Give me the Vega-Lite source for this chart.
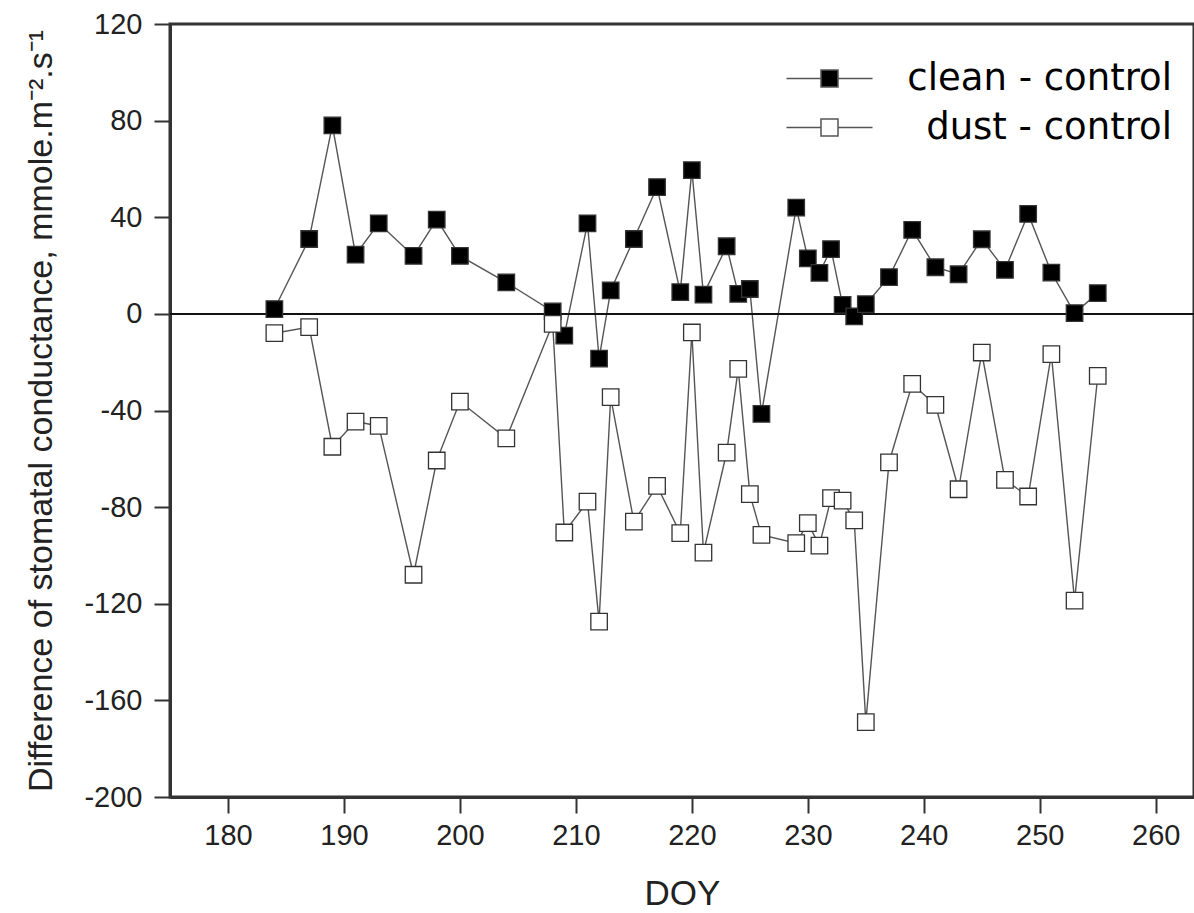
{
  "$schema": "https://vega.github.io/schema/vega-lite/v6.json",
  "width": 1024,
  "height": 773,
  "autosize": {"type": "none"},
  "padding": {"left": 170, "top": 24, "right": 0, "bottom": 116},
  "background": "white",
  "config": {
    "view": {"stroke": "#333", "strokeWidth": 3},
    "axis": {
      "grid": false,
      "domainColor": "#333",
      "domainWidth": 3,
      "tickColor": "#333",
      "tickWidth": 2,
      "tickSize": 16,
      "labelFont": "Liberation Sans",
      "labelFontSize": 29,
      "labelColor": "#222",
      "titleFont": "Liberation Sans",
      "titleFontWeight": "normal",
      "titleColor": "#222"
    }
  },
  "data": {
    "values": [
      {"doy": 184, "v": 2, "series": "clean - control"},
      {"doy": 187, "v": 31, "series": "clean - control"},
      {"doy": 189, "v": 78, "series": "clean - control"},
      {"doy": 191, "v": 24.5, "series": "clean - control"},
      {"doy": 193, "v": 37.5, "series": "clean - control"},
      {"doy": 196, "v": 24, "series": "clean - control"},
      {"doy": 198, "v": 39, "series": "clean - control"},
      {"doy": 200, "v": 24, "series": "clean - control"},
      {"doy": 204, "v": 13, "series": "clean - control"},
      {"doy": 208, "v": 1, "series": "clean - control"},
      {"doy": 209, "v": -9, "series": "clean - control"},
      {"doy": 211, "v": 37.5, "series": "clean - control"},
      {"doy": 212, "v": -18.5, "series": "clean - control"},
      {"doy": 213, "v": 9.7, "series": "clean - control"},
      {"doy": 215, "v": 31, "series": "clean - control"},
      {"doy": 217, "v": 52.5, "series": "clean - control"},
      {"doy": 219, "v": 9, "series": "clean - control"},
      {"doy": 220, "v": 59.5, "series": "clean - control"},
      {"doy": 221, "v": 8, "series": "clean - control"},
      {"doy": 223, "v": 28, "series": "clean - control"},
      {"doy": 224, "v": 8.3, "series": "clean - control"},
      {"doy": 225, "v": 10.3, "series": "clean - control"},
      {"doy": 226, "v": -41.4, "series": "clean - control"},
      {"doy": 229, "v": 44, "series": "clean - control"},
      {"doy": 230, "v": 23, "series": "clean - control"},
      {"doy": 231, "v": 17, "series": "clean - control"},
      {"doy": 232, "v": 26.8, "series": "clean - control"},
      {"doy": 233, "v": 3.7, "series": "clean - control"},
      {"doy": 234, "v": -1, "series": "clean - control"},
      {"doy": 235, "v": 4, "series": "clean - control"},
      {"doy": 237, "v": 15.2, "series": "clean - control"},
      {"doy": 239, "v": 34.8, "series": "clean - control"},
      {"doy": 241, "v": 19.3, "series": "clean - control"},
      {"doy": 243, "v": 16.4, "series": "clean - control"},
      {"doy": 245, "v": 30.9, "series": "clean - control"},
      {"doy": 247, "v": 18.2, "series": "clean - control"},
      {"doy": 249, "v": 41.4, "series": "clean - control"},
      {"doy": 251, "v": 17.1, "series": "clean - control"},
      {"doy": 253, "v": 0.3, "series": "clean - control"},
      {"doy": 255, "v": 8.6, "series": "clean - control"},
      {"doy": 184, "v": -8, "series": "dust - control"},
      {"doy": 187, "v": -5.5, "series": "dust - control"},
      {"doy": 189, "v": -55, "series": "dust - control"},
      {"doy": 191, "v": -44.6, "series": "dust - control"},
      {"doy": 193, "v": -46.4, "series": "dust - control"},
      {"doy": 196, "v": -108, "series": "dust - control"},
      {"doy": 198, "v": -60.7, "series": "dust - control"},
      {"doy": 200, "v": -36.3, "series": "dust - control"},
      {"doy": 204, "v": -51.5, "series": "dust - control"},
      {"doy": 208, "v": -4.1, "series": "dust - control"},
      {"doy": 209, "v": -90.5, "series": "dust - control"},
      {"doy": 211, "v": -77.7, "series": "dust - control"},
      {"doy": 212, "v": -127.4, "series": "dust - control"},
      {"doy": 213, "v": -34.5, "series": "dust - control"},
      {"doy": 215, "v": -86, "series": "dust - control"},
      {"doy": 217, "v": -71.2, "series": "dust - control"},
      {"doy": 219, "v": -90.8, "series": "dust - control"},
      {"doy": 220, "v": -7.7, "series": "dust - control"},
      {"doy": 221, "v": -98.8, "series": "dust - control"},
      {"doy": 223, "v": -57.4, "series": "dust - control"},
      {"doy": 224, "v": -22.8, "series": "dust - control"},
      {"doy": 225, "v": -74.6, "series": "dust - control"},
      {"doy": 226, "v": -91.5, "series": "dust - control"},
      {"doy": 229, "v": -94.9, "series": "dust - control"},
      {"doy": 230, "v": -86.6, "series": "dust - control"},
      {"doy": 231, "v": -95.9, "series": "dust - control"},
      {"doy": 232, "v": -76.3, "series": "dust - control"},
      {"doy": 233, "v": -77.3, "series": "dust - control"},
      {"doy": 234, "v": -85.5, "series": "dust - control"},
      {"doy": 235, "v": -169, "series": "dust - control"},
      {"doy": 237, "v": -61.5, "series": "dust - control"},
      {"doy": 239, "v": -29, "series": "dust - control"},
      {"doy": 241, "v": -37.7, "series": "dust - control"},
      {"doy": 243, "v": -72.6, "series": "dust - control"},
      {"doy": 245, "v": -16, "series": "dust - control"},
      {"doy": 247, "v": -68.7, "series": "dust - control"},
      {"doy": 249, "v": -75.6, "series": "dust - control"},
      {"doy": 251, "v": -16.7, "series": "dust - control"},
      {"doy": 253, "v": -118.7, "series": "dust - control"},
      {"doy": 255, "v": -25.7, "series": "dust - control"}
    ]
  },
  "encoding": {
    "x": {
      "field": "doy",
      "type": "quantitative",
      "scale": {"domain": [175, 263.3], "nice": false, "zero": false},
      "axis": {
        "values": [180, 190, 200, 210, 220, 230, 240, 250, 260],
        "title": "DOY",
        "titleFontSize": 35,
        "titlePadding": 26,
        "labelPadding": 8
      }
    },
    "y": {
      "field": "v",
      "type": "quantitative",
      "scale": {"domain": [-200, 120], "nice": false, "zero": false},
      "axis": {
        "values": [-200, -160, -120, -80, -40, 0, 40, 80, 120],
        "labelExpr": "toString(datum.value)",
        "title": "Difference of stomatal conductance, mmole.m⁻².s⁻¹",
        "titleFontSize": 34,
        "titlePadding": 25,
        "labelPadding": 12
      }
    }
  },
  "layer": [
    {
      "mark": {"type": "line", "color": "#555", "strokeWidth": 1.4},
      "encoding": {"detail": {"field": "series"}}
    },
    {
      "mark": {"type": "rule", "color": "#111", "strokeWidth": 2},
      "encoding": {"y": {"datum": 0}, "x": {"value": 0}, "x2": {"value": 1024}}
    },
    {
      "mark": {"type": "point", "shape": "square", "size": 272, "filled": true, "stroke": "#333", "strokeWidth": 1.3, "opacity": 1},
      "encoding": {
        "fill": {
          "field": "series",
          "type": "nominal",
          "scale": {"domain": ["clean - control", "dust - control"], "range": ["#000000", "#ffffff"]},
          "legend": {
            "title": null,
            "orient": "none",
            "legendX": 641,
            "legendY": 36,
            "padding": 0,
            "symbolType": "M-5.06,0H-1M1,0H5.06M-1,-1H1V1H-1Z",
            "symbolSize": 289,
            "symbolStrokeColor": "#555",
            "symbolStrokeWidth": 1.5,
            "labelFont": "DejaVu Sans",
            "labelFontSize": 37,
            "labelColor": "#000",
            "labelAlign": "right",
            "labelOffset": 324,
            "labelLimit": 0,
            "rowPadding": 11
          }
        }
      }
    }
  ]
}
